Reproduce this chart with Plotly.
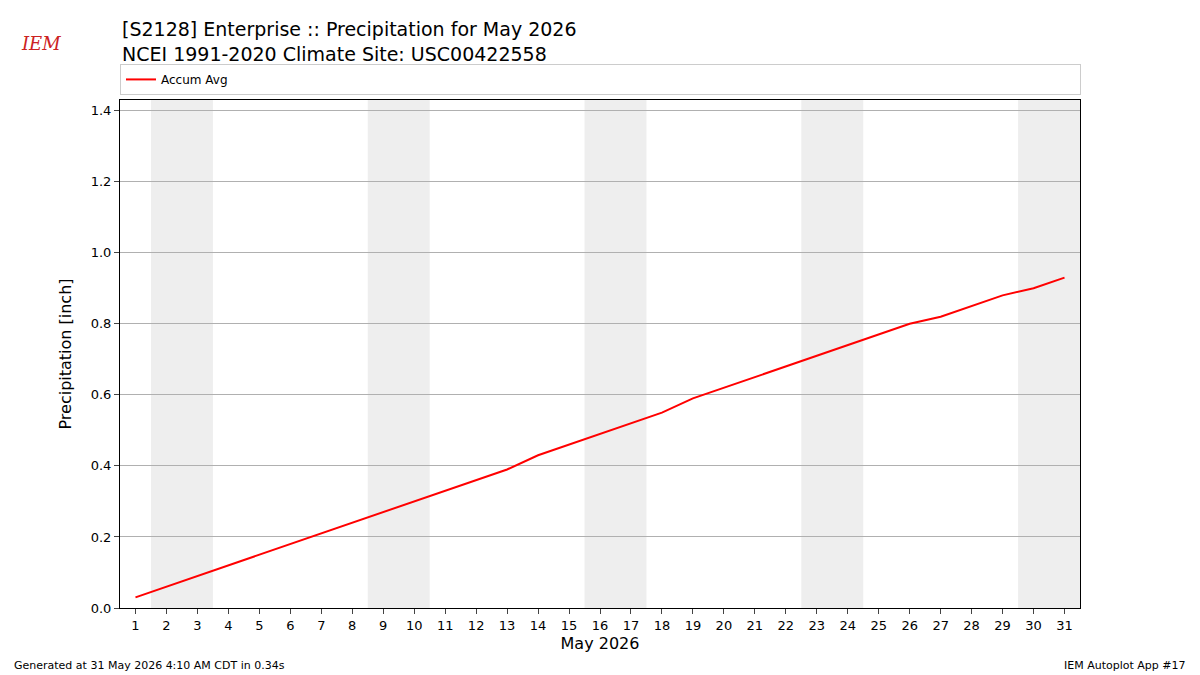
import datetime
import plotly.graph_objects as go

days = list(range(1, 32))
accum_avg = [0.03, 0.06, 0.09, 0.12, 0.15, 0.18, 0.21, 0.24, 0.27, 0.30,
             0.33, 0.36, 0.39, 0.43, 0.46, 0.49, 0.52, 0.55, 0.59, 0.62,
             0.65, 0.68, 0.71, 0.74, 0.77, 0.80, 0.82, 0.85, 0.88, 0.90, 0.93]
weekend_days = [d for d in days if datetime.date(2026, 5, d).weekday() >= 5]

fig = go.Figure()
fig.add_trace(go.Scatter(x=days, y=accum_avg, mode="lines", name="Accum Avg",
                         line=dict(color="red", width=2)))

# merge consecutive weekend days into single shaded spans
spans = []
for d in weekend_days:
    if spans and spans[-1][1] == d - 1:
        spans[-1][1] = d
    else:
        spans.append([d, d])
for a, b in spans:
    fig.add_vrect(x0=a - 0.5, x1=b + 0.5, fillcolor="#eeeeee", line_width=0, layer="below")

font = "DejaVu Sans"
# page has an 8px body margin, so the figure is a bit smaller and shifted
fig.update_layout(
    width=1192, height=667, plot_bgcolor="white", paper_bgcolor="white",
    margin=dict(l=112, r=120, t=92, b=67, autoexpand=False),
    font=dict(family=font, size=13, color="black"),
    showlegend=True,
    legend=dict(x=0, y=1.01, xanchor="left", yanchor="bottom", orientation="h",
                bordercolor="#cccccc", borderwidth=1, font=dict(size=12),
                entrywidth=914, entrywidthmode="pixels", tracegroupgap=0),
    xaxis=dict(range=[0.5, 31.5], tickvals=days, ticks="outside", showgrid=False,
               showline=True, linecolor="black", mirror=True, zeroline=False, automargin=False,
               title=dict(text="May 2026", font=dict(size=16), standoff=6)),
    yaxis=dict(range=[0, 1.43], tickvals=[0, 0.2, 0.4, 0.6, 0.8, 1.0, 1.2, 1.4],
               tickformat=".1f", ticks="outside", showgrid=True, gridcolor="#b0b0b0",
               showline=True, linecolor="black", mirror=True, zeroline=False, automargin=False,
               title=dict(text="Precipitation [inch]", font=dict(size=16))),
)
fig.add_annotation(x=0, y=1.165, xref="x domain", yref="y domain", xanchor="left", yanchor="top",
                   text="[S2128] Enterprise :: Precipitation for May 2026<br>NCEI 1991-2020 Climate Site: USC00422558",
                   showarrow=False, align="left", font=dict(size=19))
fig.add_annotation(x=-0.105, y=1.135, xref="x domain", yref="y domain", xanchor="left", yanchor="top",
                   text="<i>IEM</i>", showarrow=False,
                   font=dict(family="DejaVu Serif", size=18, color="#cc2222"))
fig.add_annotation(x=-0.1125, y=-0.114, xref="x domain", yref="y domain", xanchor="left", yanchor="middle",
                   text="Generated at 31 May 2026 4:10 AM CDT in 0.34s", showarrow=False,
                   font=dict(size=11))
fig.add_annotation(x=1.1125, y=-0.114, xref="x domain", yref="y domain", xanchor="right", yanchor="middle",
                   text="IEM Autoplot App #17", showarrow=False, font=dict(size=11))
fig.write_html("out.html")
